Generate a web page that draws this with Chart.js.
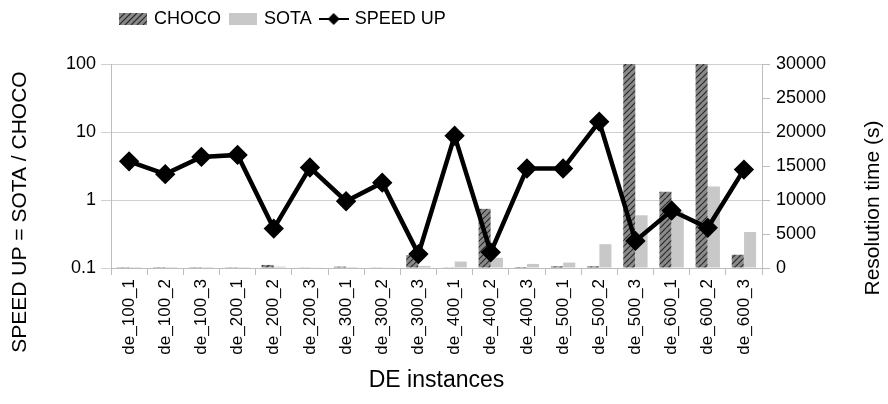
<!DOCTYPE html>
<html>
<head>
<meta charset="utf-8">
<script src="https://cdn.jsdelivr.net/npm/chart.js@4.4.1/dist/chart.umd.min.js"></script>
<style>
  html, body { margin: 0; padding: 0; background: #fff; }
  #wrap { width: 888px; height: 404px; position: relative; }
</style>
</head>
<body>
<div id="wrap"><canvas id="speedChart"></canvas></div>
<script>
// values
const instances = ['de_100_1', 'de_100_2', 'de_100_3', 'de_200_1', 'de_200_2', 'de_200_3',
    'de_300_1', 'de_300_2', 'de_300_3', 'de_400_1', 'de_400_2', 'de_400_3',
    'de_500_1', 'de_500_2', 'de_500_3', 'de_600_1', 'de_600_2', 'de_600_3'];
const chocoTime = [20, 15, 20, 30, 450, 50, 200, 50, 1900, 100, 8700, 150, 250, 250, 30000, 11200, 30000, 1950];
const sotaTime = [10, 10, 10, 20, 200, 50, 150, 50, 300, 950, 1500, 600, 800, 3500, 7750, 8300, 12000, 5300];
const speedUp = [3.7, 2.4, 4.3, 4.6, 0.38, 3.0, 0.96, 1.8, 0.16, 8.8, 0.17, 2.9, 2.9, 14.2, 0.25, 0.7, 0.39, 2.8];
const speedTicks = [0.1, 1, 10, 100];

const FONT = "'Liberation Sans', Arial, sans-serif";

function hatch(w, h) {
    const c = document.createElement('canvas');
    c.width = w; c.height = h;
    const g = c.getContext('2d');
    g.fillStyle = '#8a8a8a';
    g.fillRect(0, 0, w, h);
    g.strokeStyle = '#2a2a2a';
    g.lineWidth = 1.2;
    for (let i = -h; i < w + h; i += 6) {
        g.beginPath();
        g.moveTo(i, h);
        g.lineTo(i + h, 0);
        g.stroke();
    }
    return c;
}

const hatchPattern = document.createElement('canvas').getContext('2d').createPattern(hatch(6, 6), 'repeat');

function swatchBox(hatched) {
    const c = hatched ? hatch(28, 12) : document.createElement('canvas');
    if (!hatched) {
        c.width = 28; c.height = 12;
        const g = c.getContext('2d');
        g.fillStyle = '#c8c8c8';
        g.fillRect(0, 0, 28, 12);
    }
    return c;
}

function swatchLine() {
    const c = document.createElement('canvas');
    c.width = 30; c.height = 14;
    const g = c.getContext('2d');
    g.strokeStyle = '#000';
    g.lineWidth = 2;
    g.beginPath(); g.moveTo(0, 7); g.lineTo(30, 7); g.stroke();
    g.fillStyle = '#000';
    g.beginPath(); g.moveTo(15, 1); g.lineTo(21, 7); g.lineTo(15, 13); g.lineTo(9, 7); g.closePath(); g.fill();
    return c;
}

const legendIcons = [swatchBox(true), swatchBox(false), swatchLine()];

// leave room under the legend, like the original
const legendGap = {
    id: 'legendGap',
    beforeLayout: function(chart) {
        const lg = chart.legend;
        if (lg && !lg._gapPatched) {
            const fit = lg.fit;
            lg.fit = function() {
                fit.call(this);
                this.height += 26;
            };
            lg._gapPatched = true;
        }
    }
};

// both axis titles read bottom to top and sit a bit lower than the plot centre
const sideTitles = {
    id: 'sideTitles',
    afterDraw: function(chart) {
        const c = chart.ctx;
        c.save();
        c.fillStyle = '#000';
        c.font = '21px ' + FONT;
        c.textAlign = 'center';
        c.textBaseline = 'middle';
        [['SPEED UP = SOTA / CHOCO', 20, 212], ['Resolution time (s)', 873, 208]].forEach(function(t) {
            c.save();
            c.translate(t[1], t[2]);
            c.rotate(-Math.PI / 2);
            c.fillText(t[0], 0, 0);
            c.restore();
        });
        c.restore();
    }
};

document.addEventListener('DOMContentLoaded', function() {
    const ctx = document.getElementById('speedChart').getContext('2d');

    new Chart(ctx, {
        data: {
            labels: instances,
            datasets: [{
                type: 'bar',
                label: 'CHOCO',
                data: chocoTime,
                yAxisID: 'yTime',
                backgroundColor: hatchPattern,
                borderWidth: 0,
                categoryPercentage: 0.68,
                barPercentage: 0.98,
                order: 2
            }, {
                type: 'bar',
                label: 'SOTA',
                data: sotaTime,
                yAxisID: 'yTime',
                backgroundColor: '#c8c8c8',
                borderWidth: 0,
                categoryPercentage: 0.68,
                barPercentage: 0.98,
                order: 2
            }, {
                type: 'line',
                label: 'SPEED UP',
                data: speedUp,
                yAxisID: 'ySpeed',
                borderColor: '#000',
                backgroundColor: '#000',
                borderWidth: 4.5,
                pointStyle: 'rectRot',
                pointRadius: 7,
                tension: 0,
                order: 0
            }]
        },
        options: {
            responsive: true,
            maintainAspectRatio: false,
            animation: false,
            layout: { padding: { left: 6, right: 2, top: 0, bottom: 6 } },
            plugins: {
                tooltip: { enabled: false },
                legend: {
                    position: 'top',
                    align: 'start',
                    fullSize: false,
                    labels: {
                        usePointStyle: true,
                        pointStyleWidth: 24,
                        padding: 10,
                        color: '#000',
                        font: { family: FONT, size: 18 },
                        generateLabels: function(chart) {
                            return chart.data.datasets.map((ds, i) => ({
                                text: ds.label,
                                pointStyle: legendIcons[i],
                                fillStyle: '#000',
                                strokeStyle: '#000',
                                lineWidth: 0,
                                hidden: false,
                                datasetIndex: i
                            }));
                        }
                    }
                }
            },
            scales: {
                x: {
                    offset: true,
                    grid: {
                        offset: true,
                        drawOnChartArea: false,
                        drawTicks: true,
                        tickLength: 7,
                        color: '#bdbdbd'
                    },
                    border: { color: '#bdbdbd' },
                    ticks: {
                        color: '#000',
                        minRotation: 90,
                        maxRotation: 90,
                        autoSkip: false,
                        padding: 4,
                        font: { family: FONT, size: 17 }
                    },
                    title: {
                        display: true,
                        text: 'DE instances',
                        color: '#000',
                        padding: { top: 8 },
                        font: { family: FONT, size: 23 }
                    },
                    afterFit: function(scale) { scale.height = 130; }
                },
                ySpeed: {
                    type: 'logarithmic',
                    position: 'left',
                    min: 0.1,
                    max: 100,
                    afterBuildTicks: function(scale) {
                        scale.ticks = speedTicks.map(v => ({ value: v }));
                    },
                    grid: { color: '#cfcfcf', tickLength: 10 },
                    border: { color: '#bdbdbd' },
                    ticks: {
                        color: '#000',
                        padding: 5,
                        font: { family: FONT, size: 18 },
                        callback: function(value) { return String(value); }
                    },
                    afterFit: function(scale) { scale.width = 105; }
                },
                yTime: {
                    position: 'right',
                    min: 0,
                    max: 30000,
                    grid: { drawOnChartArea: false, tickLength: 8, color: '#bdbdbd' },
                    border: { color: '#bdbdbd' },
                    ticks: {
                        stepSize: 5000,
                        color: '#000',
                        padding: 6,
                        font: { family: FONT, size: 18 },
                        callback: function(value) { return String(value); }
                    },
                    afterFit: function(scale) { scale.width = 124; }
                }
            }
        },
        plugins: [legendGap, sideTitles]
    });
});
</script>
</body>
</html>
